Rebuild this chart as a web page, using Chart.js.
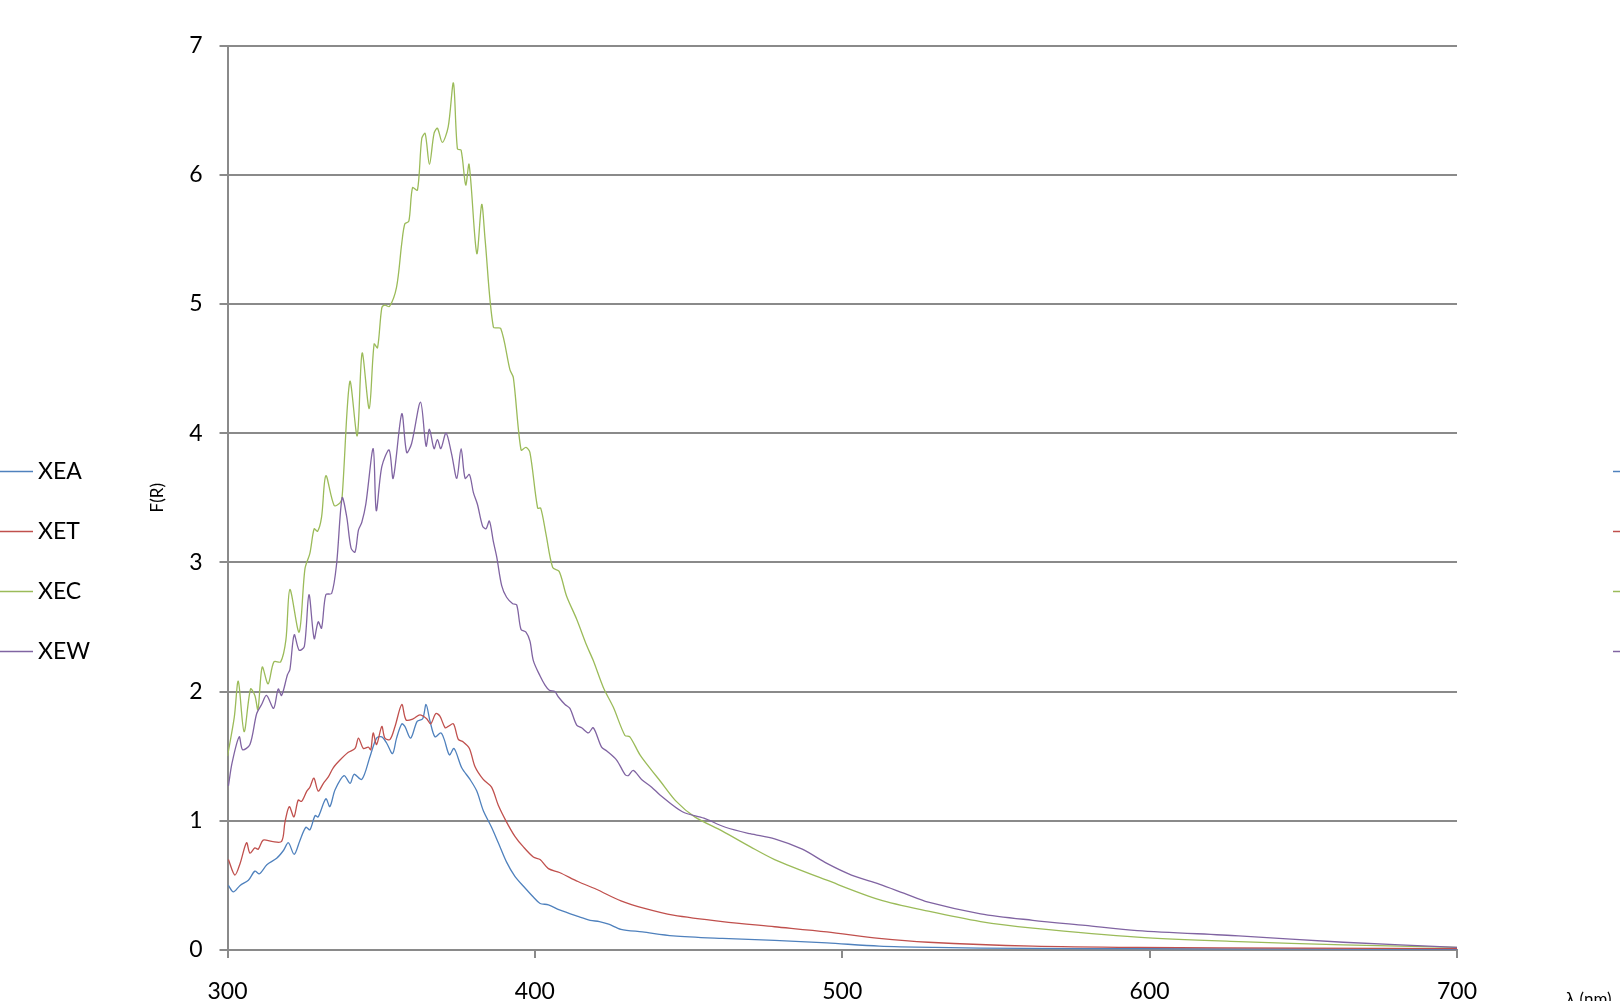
<!DOCTYPE html>
<html>
<head>
<meta charset="utf-8">
<script src="https://cdn.jsdelivr.net/npm/chart.js@4.4.1/dist/chart.umd.min.js"></script>
<style>
  html, body { margin: 0; padding: 0; background: #ffffff; overflow: hidden; }
  #c { display: block; }
</style>
</head>
<body>
<canvas id="c" width="1620" height="1001"></canvas>
<script>
// ---- Data (wavelength in nm, F(R)) ----
const seriesNames = ["XEA", "XET", "XEC", "XEW"];
const seriesColors = ["#4F81BD", "#C0504D", "#9BBB59", "#8064A2"];
const xTicks = [300, 400, 500, 600, 700];
const yTicks = [0, 1, 2, 3, 4, 5, 6, 7];

const XEA_nm = [300.3,301.9,304.1,306.8,308.9,310.4,312.8,316.0,318.2,319.8,321.7,323.6,325.5,326.8,328.5,329.5,332.0,333.3,335.0,337.9,339.9,341.2,343.7,346.4,348.5,350.2,351.8,353.7,355.0,356.7,357.7,359.6,361.7,363.5,364.6,365.9,367.5,369.4,370.5,372.2,373.7,376.2,378.9,381.1,383.2,385.9,388.1,390.8,393.5,396.8,399.5,401.7,404.4,408,414,418,421,424,428,435,445,461,478,495,512,530,560,600,650,700];
const XEA_F  = [0.50,0.45,0.50,0.54,0.61,0.59,0.66,0.71,0.77,0.83,0.74,0.85,0.95,0.93,1.04,1.03,1.17,1.11,1.24,1.35,1.29,1.36,1.32,1.50,1.64,1.65,1.60,1.52,1.64,1.75,1.73,1.64,1.77,1.79,1.90,1.77,1.65,1.68,1.63,1.51,1.56,1.41,1.32,1.23,1.08,0.95,0.83,0.68,0.57,0.48,0.41,0.36,0.35,0.31,0.26,0.23,0.22,0.20,0.16,0.14,0.11,0.09,0.075,0.055,0.03,0.02,0.012,0.01,0.008,0.005];

const XET_nm = [300.3,302.4,304.1,306.2,307.3,308.9,310.0,311.6,314.4,317.6,318.7,320.1,321.6,323.0,324.1,325.8,326.8,328.1,329.5,331.2,332.8,334.4,336.6,339.3,341.5,342.6,344.2,345.8,346.6,347.4,348.5,350.2,351.2,352.9,354.5,356.7,358.1,360.5,362.6,364.8,366.1,367.8,369.1,370.8,371.8,373.5,375.1,376.7,378.7,380.5,383.2,385.9,388.1,390.8,393.5,396.2,399.5,401.7,404.4,408,414,420,428,436,445,461,478,495,512,528,562,596,650,700];
const XET_F  = [0.70,0.58,0.67,0.83,0.75,0.79,0.78,0.85,0.84,0.84,0.99,1.11,1.03,1.16,1.15,1.23,1.26,1.33,1.23,1.29,1.34,1.41,1.47,1.53,1.56,1.64,1.56,1.57,1.55,1.68,1.59,1.73,1.64,1.63,1.73,1.90,1.78,1.79,1.82,1.79,1.75,1.83,1.81,1.72,1.73,1.75,1.63,1.61,1.56,1.42,1.32,1.26,1.12,0.99,0.88,0.80,0.72,0.70,0.63,0.60,0.53,0.47,0.38,0.32,0.27,0.22,0.18,0.14,0.09,0.06,0.03,0.02,0.015,0.01];

const XEC_nm = [300.0,302.2,303.5,305.4,307.5,308.9,309.9,311.3,313.2,315.1,317.3,319.0,320.3,323.3,325.2,326.8,328.2,329.3,330.6,332.0,334.7,336.6,337.3,339.8,342.2,343.8,346.1,347.7,348.8,350.2,351.2,352.7,355.0,356.7,357.7,359.0,360.2,361.8,363.2,364.3,365.7,367.2,368.3,369.9,371.8,373.5,374.8,376.0,377.5,378.6,381.1,382.7,383.8,386.5,388.9,391.9,393.0,395.5,397.1,398.4,400.9,401.9,403.6,405.8,407.9,410.3,413.6,416.8,419.0,422.3,425.5,429.3,430.9,434.2,438.0,440.7,446,452,461,470,478,495,512,528,545,562,596,629,663,700];
const XEC_F  = [1.50,1.80,2.08,1.69,2.02,1.97,1.86,2.19,2.06,2.23,2.23,2.40,2.79,2.46,2.95,3.07,3.26,3.24,3.35,3.67,3.44,3.46,3.51,4.40,3.98,4.62,4.19,4.69,4.66,4.97,4.99,4.98,5.13,5.47,5.62,5.64,5.90,5.88,6.28,6.32,6.08,6.32,6.36,6.25,6.37,6.71,6.20,6.19,5.92,6.08,5.39,5.77,5.50,4.82,4.81,4.49,4.43,3.87,3.89,3.85,3.42,3.42,3.22,2.96,2.93,2.74,2.56,2.36,2.24,2.03,1.88,1.66,1.65,1.51,1.39,1.31,1.15,1.03,0.92,0.80,0.70,0.54,0.39,0.30,0.22,0.17,0.10,0.065,0.04,0.02];

const XEW_nm = [300.3,301.5,303.8,304.9,307.3,309.5,311.1,312.7,315.0,316.5,317.6,319.5,320.3,321.7,323.3,325.0,326.5,328.2,329.5,330.6,332.0,333.9,335.5,337.3,338.8,340.2,341.5,342.6,343.7,345.0,347.4,348.4,350.2,352.6,353.9,356.7,358.3,359.9,362.8,364.6,365.7,367.2,368.3,369.4,371.1,372.9,374.6,376.0,377.3,378.7,380.0,381.3,383.0,384.1,385.2,386.5,387.6,389.2,390.8,392.8,394.1,395.5,397.1,398.4,399.5,401.7,403.3,404.7,406.5,407.6,409.8,411.4,413.6,415.2,417.4,419.0,421.7,423.4,426.6,429.3,430.4,432.0,434.7,438.0,440.7,448,455,462,470,478,487,495,503,512,520,528,545,562,579,596,629,663,700];
const XEW_F  = [1.27,1.45,1.65,1.55,1.59,1.83,1.90,1.97,1.87,2.02,1.97,2.13,2.17,2.44,2.32,2.35,2.75,2.41,2.54,2.49,2.75,2.76,2.99,3.50,3.35,3.11,3.08,3.25,3.31,3.45,3.88,3.40,3.74,3.87,3.65,4.15,3.85,3.92,4.24,3.90,4.03,3.88,3.95,3.88,4.00,3.84,3.65,3.88,3.65,3.68,3.54,3.45,3.28,3.26,3.32,3.16,3.04,2.82,2.73,2.68,2.67,2.48,2.46,2.39,2.24,2.12,2.05,2.01,2.00,1.96,1.90,1.87,1.74,1.72,1.68,1.72,1.57,1.54,1.47,1.36,1.35,1.39,1.32,1.26,1.20,1.07,1.02,0.95,0.90,0.86,0.78,0.67,0.58,0.51,0.44,0.37,0.28,0.23,0.19,0.15,0.11,0.06,0.02];

const seriesX = [XEA_nm, XET_nm, XEC_nm, XEW_nm];
const seriesY = [XEA_F, XET_F, XEC_F, XEW_F];

const FONT = "Lato, 'Open Sans', 'Liberation Sans', sans-serif";
const GRID = "#8a8a8a";

const datasets = seriesNames.map((name, i) => ({
  label: name,
  data: seriesX[i].map((x, k) => ({ x: x, y: seriesY[i][k] })),
  borderColor: seriesColors[i],
  backgroundColor: seriesColors[i],
  borderWidth: 1.3,
  pointRadius: 0,
  pointHoverRadius: 0,
  tension: 0.3,
  fill: false,
  order: 4 - i
}));

// Legends on the left and (clipped) on the right, plus the x-axis caption
const decor = {
  id: "decor",
  afterDraw(chart) {
    const ctx = chart.ctx;
    ctx.save();
    chart.data.datasets.forEach((ds, i) => {
      const y = 471.5 + i * 60;
      ctx.strokeStyle = ds.borderColor;
      ctx.lineWidth = 1.5;
      ctx.beginPath(); ctx.moveTo(0, y); ctx.lineTo(33, y); ctx.stroke();
      ctx.beginPath(); ctx.moveTo(1613, y); ctx.lineTo(1640, y); ctx.stroke();
      ctx.fillStyle = "#000";
      ctx.font = "23px " + FONT;
      ctx.textBaseline = "middle";
      ctx.textAlign = "left";
      ctx.fillText(ds.label, 38, y);
    });
    ctx.font = "17px " + FONT;
    ctx.fillStyle = "#000";
    ctx.textBaseline = "top";
    ctx.textAlign = "left";
    ctx.fillText("λ (nm)", 1566, 991);
    ctx.restore();
  }
};

new Chart(document.getElementById("c"), {
  type: "line",
  data: { datasets },
  options: {
    responsive: false,
    animation: false,
    devicePixelRatio: 1,
    events: [],
    layout: { padding: { left: 147.5, right: 163, top: 45.5, bottom: 0 } },
    plugins: { legend: { display: false }, tooltip: { enabled: false }, title: { display: false } },
    scales: {
      x: {
        type: "linear",
        min: 300, max: 700,
        afterBuildTicks: (s) => { s.ticks = xTicks.map(v => ({ value: v })); },
        afterFit: (s) => { s.height = 51; },
        ticks: { color: "#000", font: { family: FONT, size: 23 }, padding: 20, maxRotation: 0 },
        grid: { drawOnChartArea: false, drawTicks: true, tickLength: 8, color: GRID, lineWidth: 2 },
        border: { display: true, color: GRID, width: 2 }
      },
      y: {
        min: 0, max: 7,
        afterBuildTicks: (s) => { s.ticks = yTicks.map(v => ({ value: v })); },
        afterFit: (s) => { s.width = 80; },
        ticks: { color: "#000", font: { family: FONT, size: 23 }, padding: 17 },
        grid: { drawOnChartArea: true, drawTicks: true, tickLength: 8, color: GRID, lineWidth: 2 },
        border: { display: true, color: GRID, width: 2 },
        title: { display: true, text: "F(R)", color: "#000", font: { family: FONT, size: 17 }, padding: 0 }
      }
    }
  },
  plugins: [decor]
});
</script>
</body>
</html>
